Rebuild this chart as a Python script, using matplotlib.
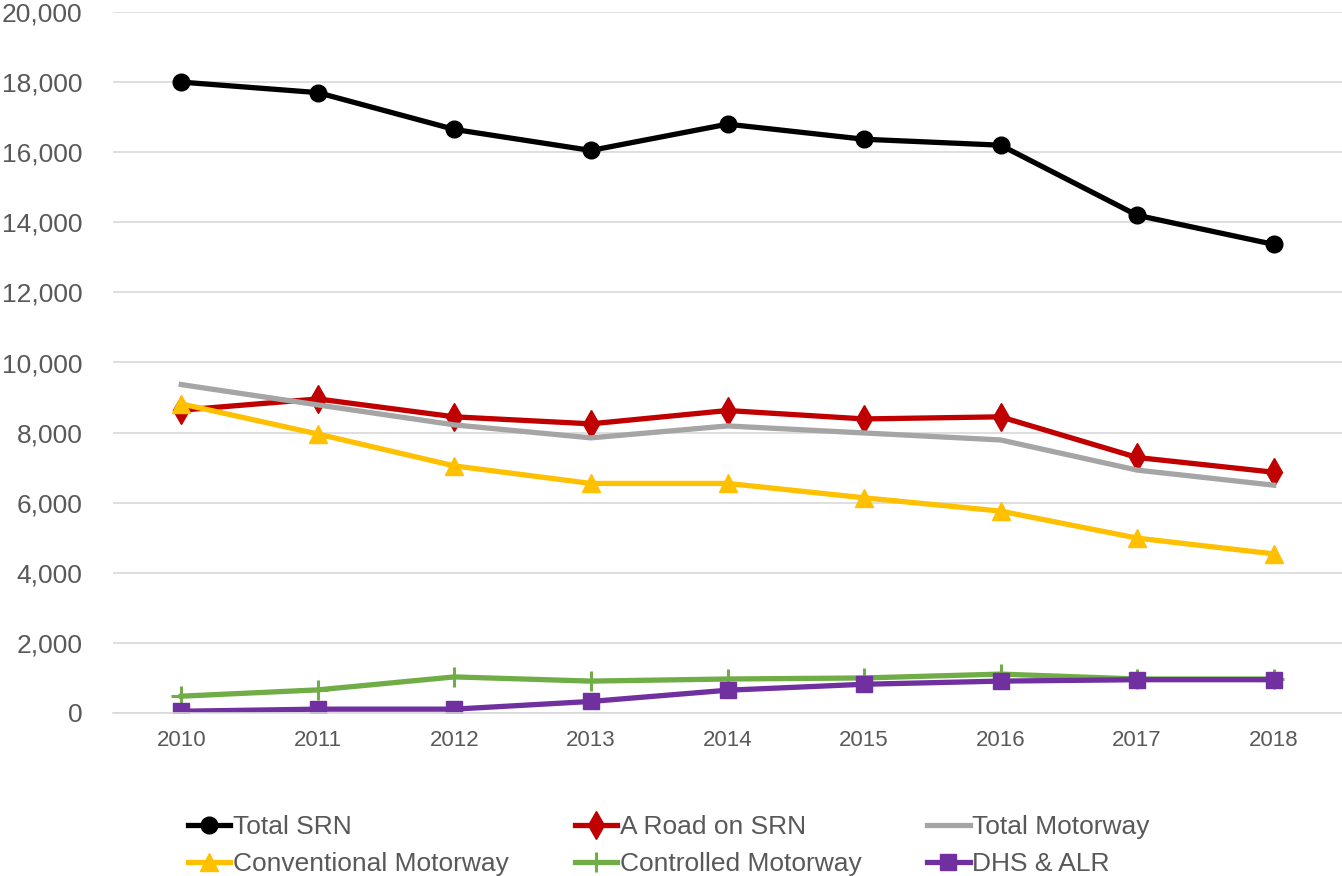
import matplotlib.pyplot as plt
import numpy as np

plt.rcParams['font.family'] = ['Liberation Sans', 'DejaVu Sans']

years = ['2010', '2011', '2012', '2013', '2014', '2015', '2016', '2017', '2018']

total_srn = [18000, 17700, 16650, 16050, 16800, 16370, 16200, 14200, 13370]
a_road = [8640, 8960, 8450, 8250, 8630, 8390, 8450, 7290, 6870]
total_motorway = [9370, 8790, 8220, 7850, 8190, 7990, 7790, 6930, 6500]
conventional = [8820, 7960, 7050, 6550, 6550, 6140, 5760, 4990, 4540]
controlled = [480, 660, 1030, 910, 970, 1000, 1110, 970, 970]
dhs_alr = [50, 110, 110, 330, 650, 820, 910, 950, 950]

text_col = '#595959'

fig = plt.figure(figsize=(13.42, 8.76), dpi=100)
ax = fig.add_axes([113 / 1342, 1 - 713 / 876, 1 - 113 / 1342, (713 - 12) / 876])

x = np.arange(len(years))
lw = 3.8
h_srn, = ax.plot(x, total_srn, color='black', lw=lw, marker='o', ms=12, label='Total SRN')
h_ar, = ax.plot(x, a_road, color='#C00000', lw=lw, marker='d', ms=14, label='A Road on SRN')
h_tm, = ax.plot(x, total_motorway, color='#A5A5A5', lw=lw, label='Total Motorway')
h_cm, = ax.plot(x, conventional, color='#FFC000', lw=lw, marker='^', ms=13, label='Conventional Motorway')
h_ctm, = ax.plot(x, controlled, color='#70AD47', lw=lw, marker='+', ms=15, mew=2.2, label='Controlled Motorway')
h_dhs, = ax.plot(x, dhs_alr, color='#7030A0', lw=lw, marker='s', ms=12, label='DHS & ALR')

ax.set_xlim(-0.5, len(years) - 0.5)
ax.set_ylim(0, 20000)
ax.set_yticks(np.arange(0, 20001, 2000))
ax.set_yticklabels([f'{v:,}' for v in range(0, 20001, 2000)])
ax.set_xticks(x)
ax.set_xticklabels(years)
ax.grid(axis='y', color='#D9D9D9', lw=1.2)
ax.set_axisbelow(True)
for s in ['top', 'right', 'left']:
    ax.spines[s].set_visible(False)
ax.spines['bottom'].set_color('#D9D9D9')
ax.spines['bottom'].set_linewidth(1.2)
ax.tick_params(axis='y', length=0, pad=22, labelsize=19, labelcolor=text_col)
ax.tick_params(axis='x', length=0, pad=12, labelsize=16, labelcolor=text_col)

# legend fills column-wise, so reorder to read row-wise
handles = [h_srn, h_cm, h_ar, h_ctm, h_tm, h_dhs]
leg = fig.legend(handles=handles, labels=[h.get_label() for h in handles],
                 loc='lower left', bbox_to_anchor=(188 / 1342, 0.0), ncol=3,
                 frameon=False, fontsize=19, handlelength=1.6, handletextpad=0.1,
                 columnspacing=2.5, labelspacing=0.5, borderpad=0, borderaxespad=0)
for t in leg.get_texts():
    t.set_color(text_col)

fig.savefig('out.png', dpi=100)
